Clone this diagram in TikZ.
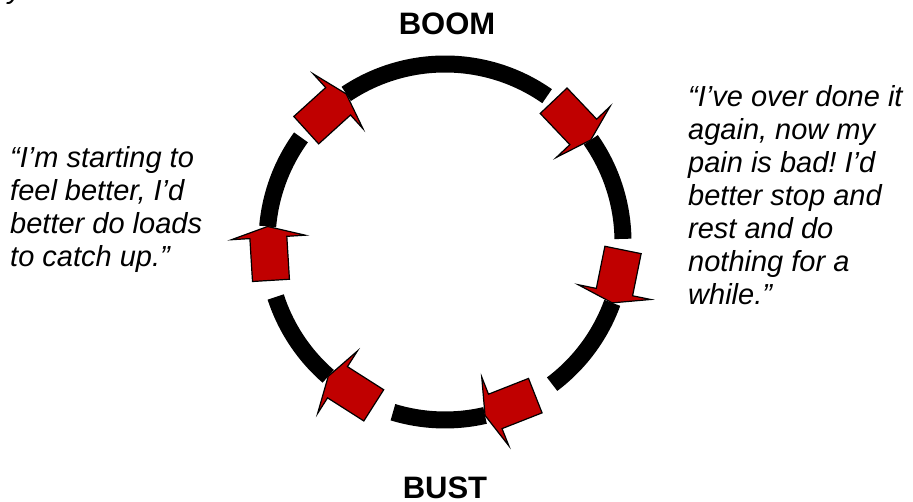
\documentclass[tikz,border=0pt]{standalone}
\usepackage{fontspec}
\setmainfont{Liberation Sans}
\usepackage{xcolor}
\definecolor{arrowred}{HTML}{C00000}
\frenchspacing
\newcommand{\ringr}{178}
\newcommand{\cyclearrow}[1]{%
	\draw[cyclearrow,shift={(#1:\ringr)},rotate=#1-81.5]
		(0,0) -- (-11,37) -- (-11,18.5) -- (-54,18.5) -- (-54,-18.5) -- (-11,-18.5) -- (-11,-37) -- cycle;}
\tikzset{
	ring/.style={line width=17pt,line cap=butt},
	cyclearrow/.style={fill=arrowred,draw=black,line width=1.2pt,line join=miter},
	quote/.style={font=\fontsize{29}{33}\selectfont\itshape,align=left,inner sep=0pt},
	stage/.style={font=\fontsize{31}{36}\selectfont\bfseries,inner sep=0pt}
}
\begin{document}
\begin{tikzpicture}[line join=round,x=1pt,y=1pt]
		\useasboundingbox (-445,-260) rectangle (468,242);
		\begin{scope}
			\clip (-445,-260) rectangle (468,242);
			\node[quote,anchor=base west] (cropped) at (-437,243.5) {y};
		\end{scope}
		\draw[ring] (55:\ringr) arc[start angle=55,end angle=123.7,radius=\ringr];
		\draw[ring] (144:\ringr) arc[start angle=144,end angle=175,radius=\ringr];
		\draw[ring] (198:\ringr) arc[start angle=198,end angle=229,radius=\ringr];
		\draw[ring] (253:\ringr) arc[start angle=253,end angle=283,radius=\ringr];
		\draw[ring] (307:\ringr) arc[start angle=307,end angle=340,radius=\ringr];
		\draw[ring] (1:\ringr) arc[start angle=1,end angle=35,radius=\ringr];
		\cyclearrow{123.7}
		\cyclearrow{175}
		\cyclearrow{229}
		\cyclearrow{283}
		\cyclearrow{340}
		\cyclearrow{35}
		\node[stage,anchor=base] (boom) at (2,207.5) {BOOM};
		\node[stage,anchor=base] (bust) at (0,-256.5) {BUST};
		\node[quote,anchor=base west] (feelbetter) at (-435,-25) {“I’m starting to\\feel better, I’d\\better do loads\\to catch up.”};
		\node[quote,anchor=base west] (overdone) at (243,-63) {“I’ve over done it\\again, now my\\pain is bad! I’d\\better stop and\\rest and do\\nothing for a\\while.”};
	\end{tikzpicture}
\end{document}
